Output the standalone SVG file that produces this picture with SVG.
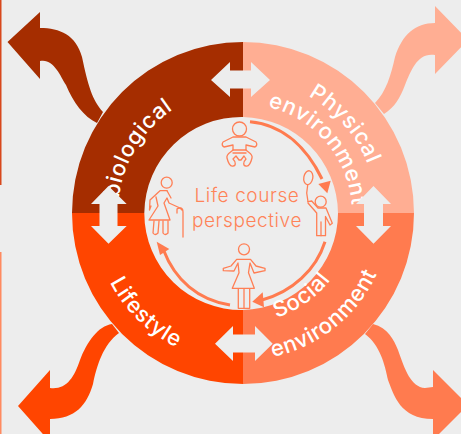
<svg xmlns="http://www.w3.org/2000/svg" width="461" height="434" viewBox="0 0 461 434">
<style>
.lbl{font-family:"Inter","Liberation Sans",sans-serif;font-size:22px;font-weight:500;fill:#fff;letter-spacing:.6px}
.ctr{font-family:"Inter","Liberation Sans",sans-serif;font-size:19px;font-weight:300;fill:#ff8358;text-anchor:middle;letter-spacing:.6px}
.ic{fill:none;stroke:#ff7f55;stroke-width:1.3;stroke-linejoin:round;stroke-linecap:round}
.cyc{fill:none;stroke:#ff7b4f;stroke-width:3}
.hd{fill:#ff7b4f}
.dbl{fill:#ededed}
</style>
<defs>
<path id="pBio" d="M118,213 A125,125 0 0 1 243,88"/>
<path id="pPhy" d="M243,79 A134,134 0 0 1 377,213"/>
<path id="pEnv" d="M243,104 A109,109 0 0 1 352,213"/>
<path id="pLife" d="M93,213 A150,150 0 0 0 243,363"/>
<path id="pSoc" d="M243,323 A110,110 0 0 0 353,213"/>
<path id="pEnv2" d="M243,360 A147,147 0 0 0 390,213"/>
</defs>
<rect width="461" height="434" fill="#ededed"/>
<rect x="0" y="0" width="1.5" height="185" fill="#d8481c"/>
<rect x="0" y="252" width="1.5" height="182" fill="#ff8a60"/>
<g id="node-biological">
<path fill="#a52d00" d="M72,213 A171,171 0 0 1 243,42 V117 A97,97 0 0 0 144.300,213 Z"/>
<path fill="#a52d00" d="M103,112 C92,100 88,85 82,57 C76,35 60,28 40,28 L40,12 L7.500,42 L40,79 L40,61 C53,58 60,75 66,85 C73,102 84,117 97,123 Z"/>
<text class="lbl"><textPath href="#pBio" startOffset="15">biological</textPath></text>
</g>
<g id="node-physical">
<path fill="#ffae93" d="M243,42 A171,171 0 0 1 414,213 H338 A97,97 0 0 0 243,117 Z"/>
<path fill="#ffae93" d="M375,103 C386,92 391,75 395,57 C402,35 415,23 435,23 L435,6 L468,40 L435,74 L435,55 C418,52 411,70 405,85 C400,98 395,107 384,114 Z"/>
<text class="lbl"><textPath href="#pPhy" startOffset="68">Physical</textPath></text>
<text class="lbl"><textPath href="#pEnv" startOffset="25">environment</textPath></text>
</g>
<g id="node-lifestyle">
<path fill="#ff4500" d="M72,213 H144.300 A97,97 0 0 0 243,310 V384 A171,171 0 0 1 72,213 Z"/>
<path fill="#ff4500" d="M112,324 C98,326 87,342 80,360 C74,378 66,390 50,388 L50,370 L18,406 L50,442 L50,419 C75,419 87,405 93,384 C97,365 103,345 119,333 Z"/>
<text class="lbl"><textPath href="#pLife" startOffset="72">Lifestyle</textPath></text>
</g>
<g id="node-social">
<path fill="#ff7b4f" d="M414,213 A171,171 0 0 1 243,384 V310 A97,97 0 0 0 338,213 Z"/>
<path fill="#ff7b4f" d="M373,324 C388,328 394,340 398,350 C405,370 411,387 425,388 L433,387 L433,370 L468,405 L433,440 L433,419 C400,419 394,395 388,380 C385,365 380,345 365,334 Z"/>
<text class="lbl"><textPath href="#pSoc" startOffset="34">Social</textPath></text>
<text class="lbl"><textPath href="#pEnv2" startOffset="30">environment</textPath></text>
</g>
<g id="connectors">
<path class="dbl" d="M211,80 L230,62 V70.500 H251 V62 L270,80 L251,97 V88.500 H230 V97 Z"/>
<path class="dbl" d="M108.500,186 L126.700,204 H117.500 V226 H126.700 L108.500,243.700 L91,226 H99.500 V204 H91 Z"/>
<path class="dbl" d="M373.500,186 L391,204 H383 V226 H391 L373.500,243.700 L356,226 H364 V204 H356 Z"/>
<path class="dbl" d="M215,343.700 L233,326 V334.500 H255 V326 L272.700,343.700 L255,361 V352.500 H233 V361 Z"/>
<path class="cyc" d="M250,121.700 C285,125 308,150 322,179"/>
<path class="hd" d="M318.300,184 L330.700,180.700 L327.300,193.300 Z"/>
<path class="cyc" d="M325,241.700 C316,270 292,292 262,300"/>
<path class="hd" d="M252.300,301.700 L262.700,292.300 L264,307.300 Z"/>
<path class="cyc" d="M230,305 C198,300 175,280 163.500,250"/>
<path class="hd" d="M156.700,241.700 L169.300,249 L160,255 Z"/>
</g>
<g id="center">
<text class="ctr" x="247" y="202">Life course</text>
<text class="ctr" x="247" y="227">perspective</text>
</g>
<g id="icon-baby" class="ic">
<circle cx="239.500" cy="129" r="7"/>
<path d="M233,137 H246 L256,142 Q258,145 255,147 L246,145 V150 H233 V145 L224,147 Q221,145 223,142 Z"/>
<path d="M233,153 H246"/>
<path d="M233,150 C230,153 226,154 227,158 C228,162 230,167 233,166 C236,166 236,162 233,159 L236,156 L239,160 H241 L244,156 L246,159 C243,162 243,166 246,166 C249,167 251,162 252,158 C253,154 249,153 246,150"/>
</g>
<g id="icon-elder" class="ic">
<circle cx="166.700" cy="182.700" r="5.500"/>
<path d="M167,190.700 H160 L150,200 L149.500,210 L151,206 M156,197 L158,206 L149,220 H170 L164,203 L167,198 L169,203 L180,208 L182,210"/>
<path d="M167,190.700 L171,198"/>
<path d="M177,213 V209 Q178,208 180,208 Q183,208 183,212 V237"/>
<path d="M154,221 L153,233 Q155,236 158,233 L159,221 M163,221 V233 Q165,236 168,233 V221"/>
</g>
<g id="icon-woman" class="ic">
<circle cx="244" cy="249.300" r="5.500"/>
<path d="M239,272.700 L238,263 L234,271 L223.300,270.700 V268.300 L231,266 L236.700,259.300 H250.500 L256,266 L265,268.300 V270.700 L254,273 L250,263 L248.500,272.700 L254.300,288.300 H232.300 Z"/>
<path d="M238.300,289 V308.300 H249.700 V289 M244,289 V308.300"/>
</g>
<g id="icon-child" class="ic">
<circle cx="320.700" cy="201.700" r="5.500"/>
<ellipse cx="308.300" cy="177.700" rx="4.500" ry="7" transform="rotate(10 308.300 177.700)"/>
<path d="M307.700,185 L306.700,193 L308,201.700"/>
<path d="M308,201.700 L311.700,201 L318,208 H326 L332.300,223.300 L330,225 L325.500,216.500 V235.700 H316.700 V213 L308,203"/>
<path d="M321,222 V235.700"/>
</g>
</svg>
